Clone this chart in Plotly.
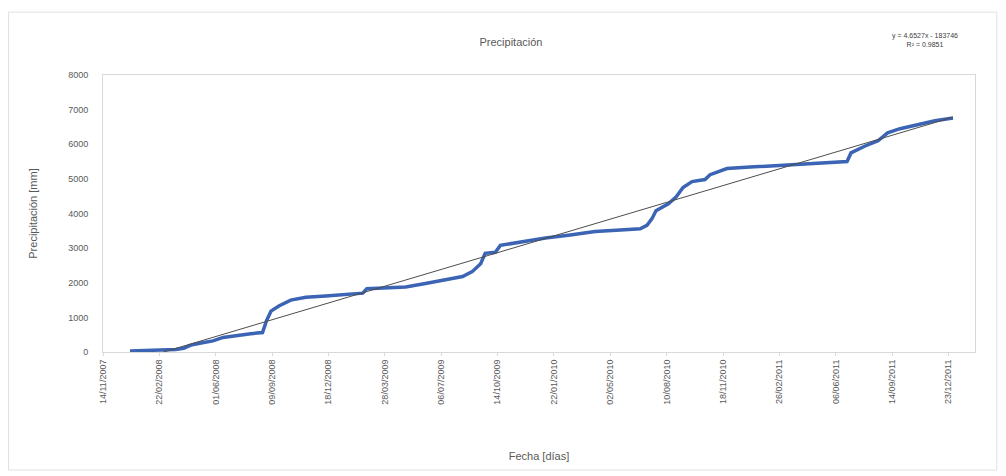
import numpy as np
import pandas as pd
import plotly.graph_objects as go

# ---- data ----
fechas = [
    "2008-01-01", "2008-02-07", "2008-03-22", "2008-04-05", "2008-04-18", "2008-05-06",
    "2008-05-27", "2008-06-14", "2008-07-07", "2008-08-02", "2008-08-23", "2008-08-30",
    "2008-09-07", "2008-09-21", "2008-10-12", "2008-11-08", "2008-12-13", "2009-01-17",
    "2009-02-17", "2009-02-24", "2009-03-29", "2009-05-04", "2009-06-08", "2009-07-14",
    "2009-08-13", "2009-08-30", "2009-09-14", "2009-09-22", "2009-10-10", "2009-10-19",
    "2009-11-23", "2010-01-07", "2010-02-20", "2010-04-05", "2010-05-20", "2010-06-24",
    "2010-07-06", "2010-07-15", "2010-07-22", "2010-08-13", "2010-08-27", "2010-09-08",
    "2010-09-24", "2010-10-17", "2010-10-26", "2010-11-13", "2010-11-25", "2011-01-05",
    "2011-02-27", "2011-04-21", "2011-06-26", "2011-07-03", "2011-07-28", "2011-08-20",
    "2011-09-06", "2011-09-28", "2011-10-30", "2011-11-29", "2011-12-31",
]
precipitacion = [
    30, 50, 70, 110, 200, 260,
    320, 420, 480, 530, 560, 900,
    1180, 1330, 1500, 1580, 1620, 1660,
    1700, 1830, 1860, 1880, 1980, 2090,
    2180, 2320, 2550, 2850, 2880, 3080,
    3180, 3290, 3380, 3480, 3520, 3560,
    3660, 3850, 4080, 4280, 4480, 4750,
    4920, 4980, 5120, 5220, 5300, 5340,
    5390, 5450, 5500, 5750, 5950, 6100,
    6330, 6450, 6560, 6680, 6760,
]
tick_labels = [
    "14/11/2007", "22/02/2008", "01/06/2008", "09/09/2008", "18/12/2008", "28/03/2009",
    "06/07/2009", "14/10/2009", "22/01/2010", "02/05/2010", "10/08/2010", "18/11/2010",
    "26/02/2011", "06/06/2011", "14/09/2011", "23/12/2011",
]
y_ticks = [0, 1000, 2000, 3000, 4000, 5000, 6000, 7000, 8000]
ecuacion = "y = 4.6527x - 183746"
r2 = "R² = 0.9851"

# ---- processing ----
x_dates = pd.to_datetime(fechas)
tick_dates = pd.to_datetime(tick_labels, format="%d/%m/%Y")
serial = (x_dates - pd.Timestamp("1899-12-30")).days.values.astype(float)
coef = np.polyfit(serial, np.array(precipitacion, dtype=float), 1)
trend_x = [x_dates[0], x_dates[-1]]
trend_y = list(np.polyval(coef, [serial[0], serial[-1]]))

grey = "#595959"
fig = go.Figure()
fig.add_trace(go.Scatter(
    x=x_dates, y=precipitacion, mode="lines",
    line=dict(color="#3B64B4", width=3.5), showlegend=False,
))
fig.add_trace(go.Scatter(
    x=trend_x, y=trend_y, mode="lines",
    line=dict(color="#4D4D4D", width=1), showlegend=False,
))

fig.update_layout(
    width=1006, height=476,
    margin=dict(l=95, r=39, t=67, b=132),
    paper_bgcolor="white", plot_bgcolor="white",
    font=dict(family="Liberation Sans, Arial, sans-serif", color=grey),
    title=dict(text="Precipitación", x=0.5, xanchor="center", y=0.929, yanchor="middle",
               font=dict(size=11, color=grey)),
    xaxis=dict(
        range=[pd.Timestamp("2007-11-14"), pd.Timestamp("2012-02-08")],
        tickmode="array", tickvals=tick_dates, ticktext=tick_labels,
        tickangle=-90, tickfont=dict(size=9, color=grey),
        showgrid=False, zeroline=False,
        showline=True, linecolor="#D9D9D9", linewidth=1, mirror=True,
        ticks="outside", ticklen=3, tickcolor="#D9D9D9",
        title=dict(text="Fecha [días]", font=dict(size=11, color=grey), standoff=48),
    ),
    yaxis=dict(
        range=[0, 8000], tickmode="array", tickvals=y_ticks,
        tickfont=dict(size=9, color=grey),
        showgrid=False, zeroline=False,
        showline=True, linecolor="#D9D9D9", linewidth=1, mirror=True,
        ticks="", ticklabelstandoff=12,
        title=dict(text="Precipitación [mm]", font=dict(size=11, color=grey), standoff=28),
    ),
    annotations=[
        dict(text=ecuacion + "<br>" + r2, xref="paper", yref="paper",
             x=0.943, y=1.126, xanchor="center", yanchor="middle", showarrow=False,
             font=dict(size=7, color="#404040"), align="center"),
    ],
    shapes=[
        dict(type="rect", xref="paper", yref="paper",
             x0=-0.1083, x1=1.025, y0=-0.426, y1=1.227,
             line=dict(color="#E0E0E0", width=1), fillcolor="rgba(0,0,0,0)", layer="below"),
    ],
)

fig.write_html("out.html")
